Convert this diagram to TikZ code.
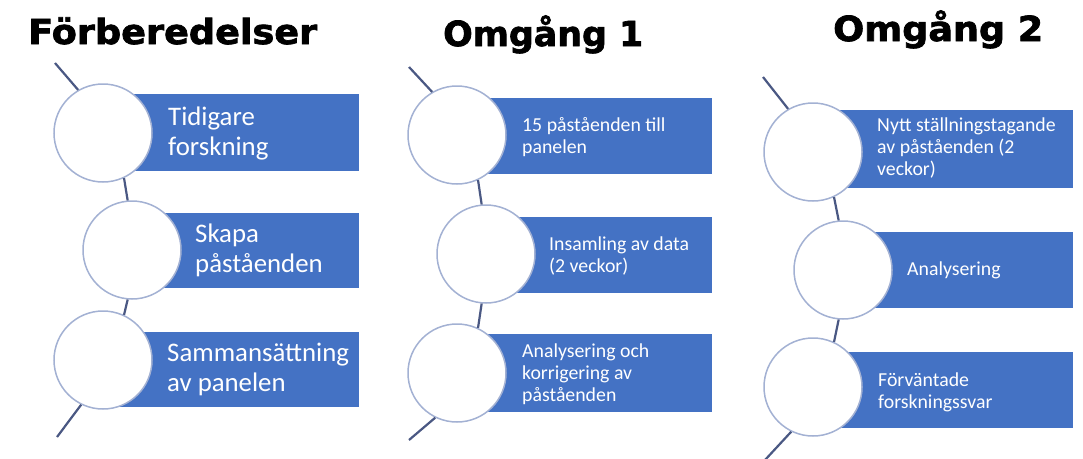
\documentclass[tikz,border=0pt]{standalone}
\usepackage{fontspec}
\usepackage{graphicx}
\setmainfont{Carlito}
\newfontfamily\titlefont{DejaVu Sans}[BoldFeatures={FakeBold=2}]
\definecolor{boxblue}{HTML}{4472C4}
\definecolor{ringcol}{HTML}{A3B1D3}
\definecolor{spinecol}{HTML}{4A5883}
\tikzset{
  bar/.style={fill=boxblue, draw=none, inner sep=0pt},
  ring/.style={circle, fill=white, draw=ringcol, line width=1.5pt, minimum size=98pt, inner sep=0pt},
  spine/.style={draw=spinecol, line width=2.2pt},
  bigtxt/.style={anchor=west, align=left, inner sep=0pt, text=white, font=\fontsize{26.8}{30}\selectfont},
  smalltxt/.style={anchor=west, align=left, inner sep=0pt, text=white, font=\fontsize{19.8}{22}\selectfont},
  ttl/.style={anchor=base west, inner sep=0pt, font=\titlefont\bfseries\fontsize{34.5}{38}\selectfont}
}
\begin{document}
\begin{tikzpicture}[x=1pt,y=-1pt]
\useasboundingbox (0,0) rectangle (1083,458);
\fill[white] (0,0) rectangle (1083,458);

% titles
\node[ttl] (h1) at (28,44) {\resizebox{289pt}{\height}{Förberedelser}};
\node[ttl] (h2) at (443,46) {\resizebox{200pt}{\height}{Omgång 1}};
\node[ttl] (h3) at (833,41) {\resizebox{210pt}{\height}{Omgång 2}};

% ---------- panel 1 ----------
\node[bar, minimum width=256pt, minimum height=77pt] (r11) at (231,132.5) {};
\node[bar, minimum width=227pt, minimum height=75pt] (r12) at (245.5,250.5) {};
\node[bar, minimum width=256pt, minimum height=75pt] (r13) at (231,369.5) {};
\node[ring] (c11) at (103,133) {};
\node[ring] (c12) at (132,250) {};
\node[ring] (c13) at (103,360) {};
\coordinate (s1t) at (55,63);
\coordinate (s1b) at (57,437);
\draw[spine] (s1t) -- (c11.120);
\draw[spine] (c11.-65) -- (c12.95);
\draw[spine] (c12.-95) -- (c13.65);
\draw[spine] (c13.-116) -- (s1b);
\node[bigtxt] (t11) at (168,133) {Tidigare\\forskning};
\node[bigtxt] (t12) at (195,250) {Skapa\\påståenden};
\node[bigtxt] (t13) at (167,369) {Sammansättning\\av panelen};

% ---------- panel 2 ----------
\node[bar, minimum width=255pt, minimum height=76pt] (r21) at (584.5,136) {};
\node[bar, minimum width=226pt, minimum height=76pt] (r22) at (599,255) {};
\node[bar, minimum width=255pt, minimum height=78pt] (r23) at (584.5,373) {};
\node[ring] (c21) at (457,135) {};
\node[ring] (c22) at (486,254) {};
\node[ring] (c23) at (457,373) {};
\coordinate (s2t) at (409,67);
\coordinate (s2b) at (409,440);
\draw[spine] (s2t) -- (c21.120);
\draw[spine] (c21.-65) -- (c22.95);
\draw[spine] (c22.-95) -- (c23.65);
\draw[spine] (c23.-116) -- (s2b);
\node[smalltxt] (t21) at (522,137) {15 påståenden till\\panelen};
\node[smalltxt] (t22) at (549,256) {Insamling av data\\(2 veckor)};
\node[smalltxt] (t23) at (522,374) {Analysering och\\korrigering av\\påståenden};

% ---------- panel 3 ----------
\node[bar, minimum width=260pt, minimum height=78pt] (r31) at (943,149) {};
\node[bar, minimum width=230pt, minimum height=76pt] (r32) at (958,270) {};
\node[bar, minimum width=260pt, minimum height=76pt] (r33) at (943,390) {};
\node[ring] (c31) at (813,152) {};
\node[ring] (c32) at (843,270) {};
\node[ring] (c33) at (813,387) {};
\coordinate (s3t) at (763,77);
\coordinate (s3b) at (765,460);
\draw[spine] (s3t) -- (c31.120);
\draw[spine] (c31.-65) -- (c32.95);
\draw[spine] (c32.-95) -- (c33.65);
\draw[spine] (c33.-116) -- (s3b);
\node[smalltxt] (t31) at (877,148) {Nytt ställningstagande\\av påståenden (2\\veckor)};
\node[smalltxt] (t32) at (907,270) {Analysering};
\node[smalltxt] (t33) at (878,392) {Förväntade\\forskningssvar};
\end{tikzpicture}
\end{document}
